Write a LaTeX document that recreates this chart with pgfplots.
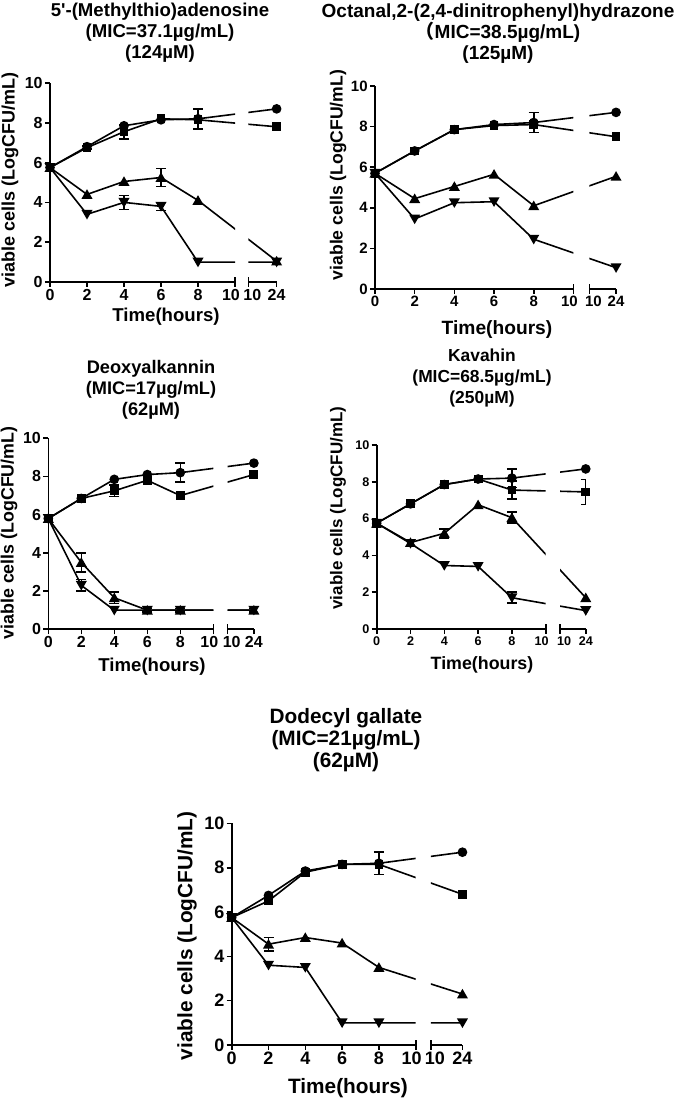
\documentclass[border=0pt]{standalone}
\usepackage{fontspec}
\setmainfont{Liberation Sans}
\newfontfamily\cjk{Noto Sans CJK SC}
\usepackage{pgfplots}
\usepackage{pgfplotstable}
\pgfplotsset{compat=1.18}
\newcommand{\fs}[2]{\fontsize{#1}{#2}\selectfont\bfseries}

% columns: t = hours; c = circle, s = square, u = triangle up, d = triangle down; e = error (SD)
\pgfplotstableread{
t  c    ce   s    se   u    ue   d    de
0  5.75 0    5.75 0    5.75 0    5.75 0
2  6.80 0    6.75 0.08 4.40 0    3.40 0
4  7.85 0    7.55 0.35 5.05 0    4.00 0.35
6  8.15 0    8.20 0    5.25 0.45 3.80 0.20
8  8.20 0.50 8.15 0    4.10 0    1.00 0
24 8.70 0    7.80 0    1.05 0.10 1.00 0
}\dataA
\pgfplotstableread{
t  c    ce   s    se   u    ue   d    de
0  5.70 0    5.70 0    5.70 0    5.70 0
2  6.80 0    6.80 0    4.45 0    3.45 0
4  7.85 0    7.85 0    5.05 0    4.25 0
6  8.10 0    8.05 0    5.65 0    4.30 0
8  8.20 0.50 8.10 0    4.10 0    2.45 0
24 8.70 0    7.50 0    5.55 0    1.05 0
}\dataB
\pgfplotstableread{
t  c    ce   s    se   u    ue   d    de
0  5.80 0    5.80 0    5.80 0    5.80 0
2  6.85 0    6.85 0    3.50 0.50 2.30 0.30
4  7.85 0    7.25 0.30 1.65 0.30 1.00 0
6  8.10 0    7.80 0    1.00 0.08 1.00 0
8  8.20 0.50 7.00 0    1.00 0.08 1.00 0
24 8.70 0    8.10 0    1.00 0.08 1.00 0
}\dataC
\pgfplotstableread{
t  c    ce   s    se   u    ue   d    de
0  5.75 0    5.75 0    5.75 0    5.75 0
2  6.80 0    6.80 0    4.70 0    4.65 0
4  7.85 0    7.85 0    5.20 0.25 3.45 0
6  8.15 0    8.15 0    6.75 0    3.40 0
8  8.20 0.50 7.55 0.50 6.05 0.30 1.70 0.30
24 8.70 0    7.45 0.68 1.70 0    1.00 0
}\dataD
\pgfplotstableread{
t  c    ce   s    se   u    ue   d    de
0  5.75 0    5.75 0    5.75 0    5.75 0
2  6.75 0    6.50 0    4.55 0.30 3.60 0
4  7.85 0    7.80 0    4.85 0    3.50 0
6  8.15 0    8.15 0    4.60 0    1.00 0
8  8.20 0.50 8.15 0    3.50 0    1.00 0
24 8.70 0    6.80 0    2.30 0    1.00 0
}\dataE

\pgfplotsset{
  panel/.style={enlargelimits=false, clip mode=individual, ymin=0, ymax=10,
    axis x line*=bottom, axis y line*=left,
    axis line style={line width=0.8pt, black},
    every tick/.style={line width=0.8pt, black},
    major tick length=2.5pt, tick align=outside,
    /pgf/number format/assume math mode=true,
    xticklabel style={inner sep=1pt}, yticklabel style={inner sep=1pt},
    extra x tick style={tick align=center, major tick length=5pt}},
  segA/.style={xmin=0, xmax=10, xtick={0,2,4,6,8}, ytick={0,2,...,10},
    extra x ticks={10}, extra x tick labels={10},
    extra x tick style={xticklabel style={xshift=-2pt}}},
  segB/.style 2 args={xmin=#1, xmax=#2, hide y axis, xtick={#2}, xticklabels={24},
    extra x ticks={#1}, extra x tick labels={10},
    extra x tick style={xticklabel style={xshift=2pt}}},
  ser/.style={black, line width=0.8pt},
  err/.style={black, draw=none, mark=none, line width=0.8pt,
    error bars/y dir=both, error bars/y explicit,
    error bars/error bar style={line width=0.8pt, black, solid},
    error bars/error mark options={line width=0.8pt, mark size=2.5pt, black, rotate=90}},
}
% the break: hour 24 is drawn at the end of the short second segment
\newcommand{\series}[2]{%
  \addplot[ser, mark=*, mark size=2pt] table[x expr={\thisrow{t}>10 ? #2 : \thisrow{t}}, y=c] #1;
  \addplot[ser, mark=square*, mark size=1.8pt] table[x expr={\thisrow{t}>10 ? #2 : \thisrow{t}}, y=s] #1;
  \addplot[ser, mark=triangle*, mark size=2.4pt, mark options={yshift=-0.6pt}] table[x expr={\thisrow{t}>10 ? #2 : \thisrow{t}}, y=u] #1;
  \addplot[ser, mark=triangle*, mark size=2.4pt, mark options={rotate=180, yshift=-0.6pt}] table[x expr={\thisrow{t}>10 ? #2 : \thisrow{t}}, y=d] #1;
  \addplot[err, restrict expr to domain={\thisrow{ce}}{0.01:100}] table[x expr={\thisrow{t}>10 ? #2 : \thisrow{t}}, y=c, y error=ce] #1;
  \addplot[err, restrict expr to domain={\thisrow{se}}{0.01:100}] table[x expr={\thisrow{t}>10 ? #2 : \thisrow{t}}, y=s, y error=se] #1;
  \addplot[err, restrict expr to domain={\thisrow{ue}}{0.01:100}] table[x expr={\thisrow{t}>10 ? #2 : \thisrow{t}}, y=u, y error=ue] #1;
  \addplot[err, restrict expr to domain={\thisrow{de}}{0.01:100}] table[x expr={\thisrow{t}>10 ? #2 : \thisrow{t}}, y=d, y error=de] #1;
}

\begin{document}
\begin{tikzpicture}
\path[use as bounding box] (0,0) rectangle (340pt,551.5pt);

% ---------- Panel 1 ----------
\begin{axis}[panel, segA, at={(25pt,410.5pt)}, anchor=south west, x=9.25pt, y=9.95pt,
  ticklabel style={font=\fs{8}{8}}]
\series{\dataA}{12.25}
\end{axis}
\begin{axis}[panel, segB={10.72}{12.25}, at={({25pt+10.72*9.25pt},410.5pt)}, anchor=south west, x=9.25pt, y=9.95pt,
  ticklabel style={font=\fs{8}{8}}]
\series{\dataA}{12.25}
\end{axis}
\node[align=center, font=\fs{9.3}{10.5}] at (80pt,535pt) {5\textquotesingle-(Methylthio)adenosine\\(MIC=37.1µg/mL)\\(124µM)};
\node[font=\fs{9.3}{10}] at (83pt,393pt) {Time(hours)};
\node[rotate=90, font=\fs{9}{10}] at (5pt,461.5pt) {viable cells (LogCFU/mL)};

% ---------- Panel 2 ----------
\begin{axis}[panel, segA, at={(187.5pt,407pt)}, anchor=south west, x=9.92pt, y=10.15pt,
  ticklabel style={font=\fs{7.5}{8}}]
\series{\dataB}{12.15}
\end{axis}
\begin{axis}[panel, segB={10.81}{12.15}, at={({187.5pt+10.81*9.92pt},407pt)}, anchor=south west, x=9.92pt, y=10.15pt,
  ticklabel style={font=\fs{7.5}{8}}]
\series{\dataB}{12.15}
\end{axis}
\node[align=center, font=\fs{9.5}{10.5}] at (249pt,534.5pt) {Octanal,2-(2,4-dinitrophenyl)hydrazone\\{\cjk （}MIC=38.5µg/mL)\\(125µM)};
\node[font=\fs{9.6}{10}] at (248.5pt,386.5pt) {Time(hours)};
\node[rotate=90, font=\fs{8.8}{10}] at (169pt,464pt) {viable cells (LogCFU/mL)};

% ---------- Panel 3 ----------
\begin{axis}[panel, segA, at={(24.15pt,236.85pt)}, anchor=south west, x=8.25pt, y=9.55pt,
  ticklabel style={font=\fs{8}{8}}]
\series{\dataC}{12.46}
\end{axis}
\begin{axis}[panel, segB={10.87}{12.46}, at={({24.15pt+10.87*8.25pt},236.85pt)}, anchor=south west, x=8.25pt, y=9.55pt,
  ticklabel style={font=\fs{8}{8}}]
\series{\dataC}{12.46}
\end{axis}
\node[align=center, font=\fs{9.1}{10.5}] at (75.5pt,356.5pt) {Deoxyalkannin\\(MIC=17µg/mL)\\(62µM)};
\node[font=\fs{9.3}{10}] at (76pt,218pt) {Time(hours)};
\node[rotate=90, font=\fs{8.9}{10}] at (4.5pt,285pt) {viable cells (LogCFU/mL)};

% ---------- Panel 4 ----------
\begin{axis}[panel, segA, at={(188.35pt,237pt)}, anchor=south west, x=8.45pt, y=9.2pt,
  ticklabel style={font=\fs{6.3}{7}}]
\series{\dataD}{12.37}
\end{axis}
\begin{axis}[panel, segB={10.85}{12.37}, at={({188.35pt+10.85*8.45pt},237pt)}, anchor=south west, x=8.45pt, y=9.2pt,
  ticklabel style={font=\fs{6.3}{7}}]
\series{\dataD}{12.37}
\end{axis}
\node[align=center, font=\fs{8.7}{10.5}] at (241pt,362.5pt) {Kavahin\\(MIC=68.5µg/mL)\\(250µM)};
\node[font=\fs{8.9}{10}] at (241pt,219pt) {Time(hours)};
\node[rotate=90, font=\fs{8.5}{10}] at (169pt,297.5pt) {viable cells (LogCFU/mL)};

% ---------- Panel 5 ----------
\begin{axis}[panel, segA, at={(115.85pt,29pt)}, anchor=south west, x=9.2pt, y=11.08pt,
  ticklabel style={font=\fs{9}{9}}]
\series{\dataE}{12.54}
\end{axis}
\begin{axis}[panel, segB={10.83}{12.54}, at={({115.85pt+10.83*9.2pt},29pt)}, anchor=south west, x=9.2pt, y=11.08pt,
  ticklabel style={font=\fs{9}{9}}]
\series{\dataE}{12.54}
\end{axis}
\node[align=center, font=\fs{10.4}{11}] at (173pt,181.5pt) {Dodecyl gallate\\(MIC=21µg/mL)\\(62µM)};
\node[font=\fs{10.4}{11}] at (174pt,7.5pt) {Time(hours)};
\node[rotate=90, font=\fs{10.4}{11}] at (93.5pt,83.5pt) {viable cells (LogCFU/mL)};
\end{tikzpicture}
\end{document}
